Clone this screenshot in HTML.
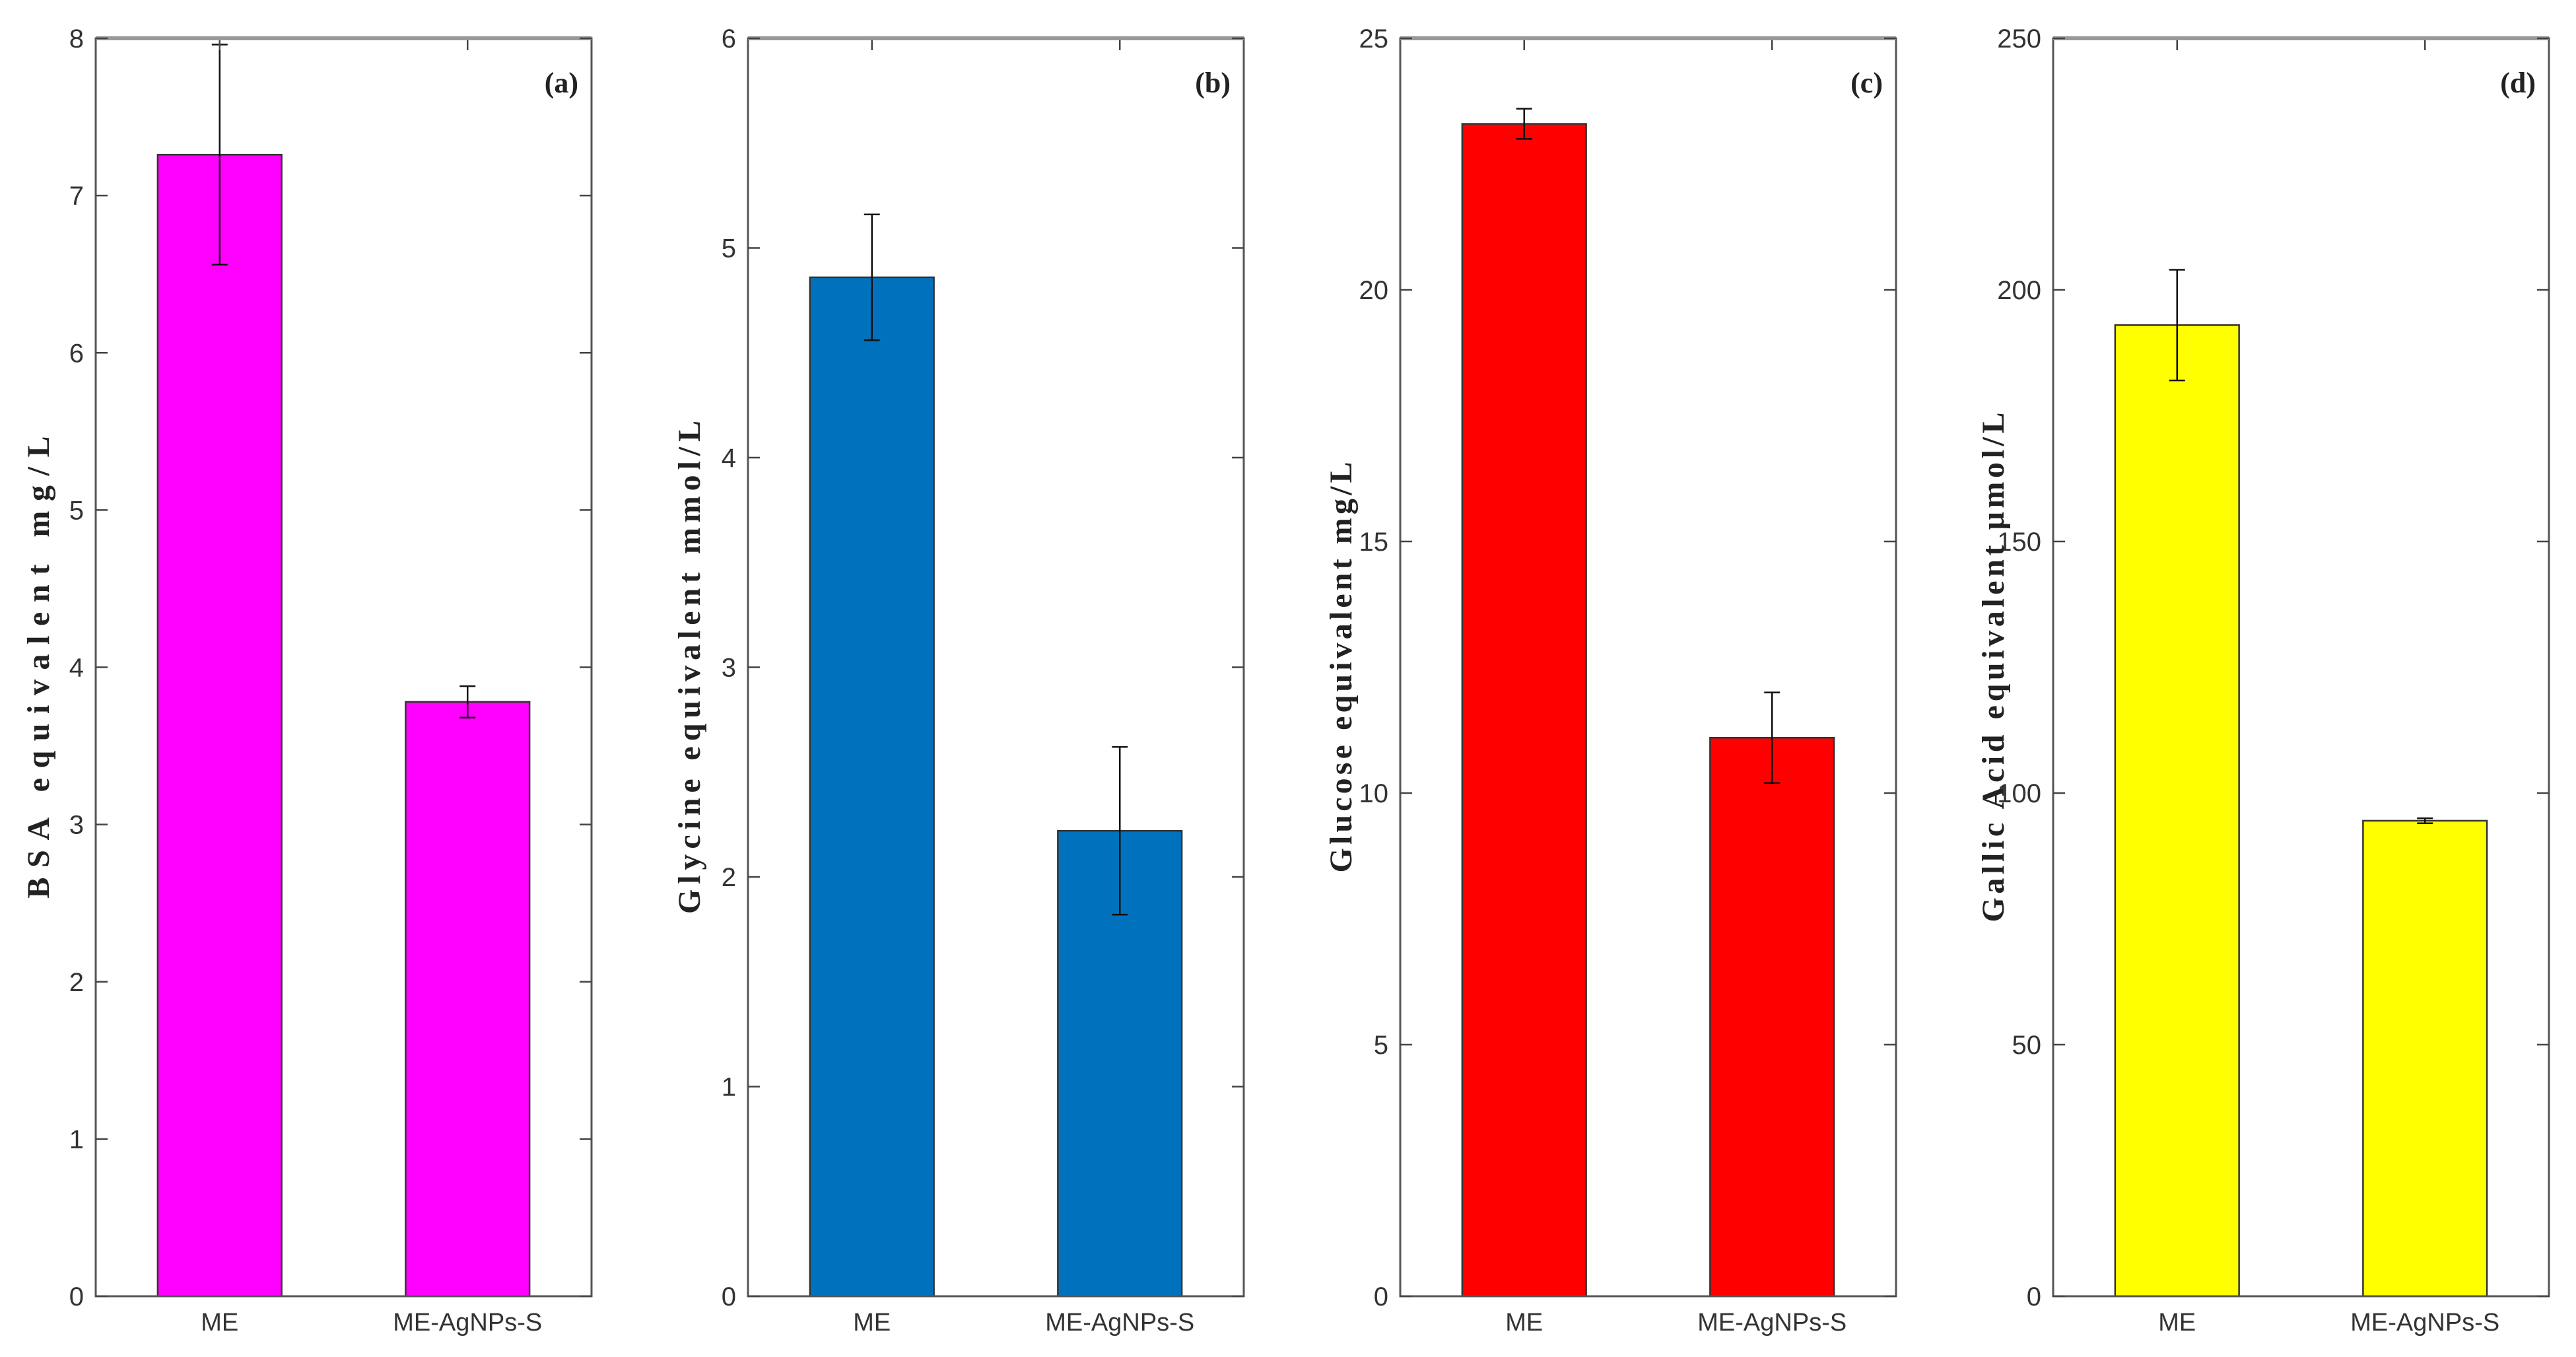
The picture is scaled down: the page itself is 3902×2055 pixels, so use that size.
<!DOCTYPE html>
<html><head><meta charset="utf-8"><style>
html,body{margin:0;padding:0;background:#fff;}
svg{display:block;}
</style></head><body>
<svg id="chart" width="3902" height="2055" xmlns="http://www.w3.org/2000/svg"></svg>
<script>
const categories = ["ME", "ME-AgNPs-S"];
const valuesA = [7.26, 3.78];
const errorsA = [0.70, 0.10];
const valuesB = [4.86, 2.22];
const errorsB = [0.30, 0.40];
const valuesC = [23.3, 11.1];
const errorsC = [0.30, 0.90];
const valuesD = [193, 94.5];
const errorsD = [11, 0.5];
const ticksA = [0,1,2,3,4,5,6,7,8];
const ticksB = [0,1,2,3,4,5,6];
const ticksC = [0,5,10,15,20,25];
const ticksD = [0,50,100,150,200,250];

const panels = [
  {id:'a', left:145, vals:valuesA, errs:errorsA, ticks:ticksA, color:'#ff00ff', title:'BSA equivalent mg/L', tx:74, tl:700},
  {id:'b', left:1133, vals:valuesB, errs:errorsB, ticks:ticksB, color:'#0072bd', title:'Glycine equivalent mmol/L', tx:1060, tl:747},
  {id:'c', left:2121, vals:valuesC, errs:errorsC, ticks:ticksC, color:'#ff0000', title:'Glucose equivalent mg/L', tx:2047, tl:622},
  {id:'d', left:3110, vals:valuesD, errs:errorsD, ticks:ticksD, color:'#ffff00', title:'Gallic Acid equivalent \u03BCmol/L', tx:3035, tl:772}
];
const W = 751, TOP = 58, BOT = 1963;
const svg = document.getElementById('chart');
const NS = 'http://www.w3.org/2000/svg';
function mk(tag, attrs, parent){
  const e = document.createElementNS(NS, tag);
  for (const k in attrs) e.setAttribute(k, attrs[k]);
  parent.appendChild(e);
  return e;
}
panels.forEach(p => {
  const g = mk('g', {}, svg);
  
  
  const ymax = p.ticks[p.ticks.length-1];
  const y = v => BOT - (v / ymax) * (BOT - TOP);
  const x = i => p.left + ((i + 1) - 0.5) / 2 * W;
  const bw = 0.5 / 2 * W;
  p.vals.forEach((v, i) => {
    const r = mk('rect', {x:x(i)-bw/2, y:y(v), width:bw, height:BOT-y(v), fill:p.color, stroke:'#333', 'stroke-width':2.5}, g);
    
    
    const e = p.errs[i];
    const eb = mk('path', {d:`M${x(i)} ${y(v+e)}V${y(v-e)}M${x(i)-12} ${y(v+e)}H${x(i)+12}M${x(i)-12} ${y(v-e)}H${x(i)+12}`, stroke:'#111', 'stroke-width':2.5, fill:'none'}, g);
    
    
    const t = mk('text', {x:x(i), y:2015, 'text-anchor':'middle', 'font-family':'Liberation Sans, sans-serif', 'font-size':38, fill:'#333'}, g);
    t.textContent = categories[i];
    
    
    mk('path', {d:`M${x(i)} ${TOP}v18`, stroke:'#444', 'stroke-width':2.5}, g);
  });
  const box = mk('rect', {x:p.left, y:TOP, width:W, height:BOT-TOP, fill:'none', stroke:'#555', 'stroke-width':3}, g);
  
  
  mk('line', {x1:p.left, x2:p.left+W, y1:TOP, y2:TOP, stroke:'#999', 'stroke-width':6}, g);
  p.ticks.forEach(tv => {
    const yy = y(tv);
    mk('path', {d:`M${p.left} ${yy}h18M${p.left+W} ${yy}h-18`, stroke:'#444', 'stroke-width':2.5}, g);
    const t = mk('text', {x:p.left-18, y:yy+14, 'text-anchor':'end', 'font-family':'Liberation Sans, sans-serif', 'font-size':40, fill:'#333'}, g);
    t.textContent = tv;
    
    
  });
  const cy = (TOP+BOT)/2;
  const yt = mk('text', {x:p.tx, y:cy, 'text-anchor':'middle', 'font-family':'Liberation Serif, serif', 'font-weight':'bold', 'font-size':48, fill:'#222', textLength:p.tl, lengthAdjust:'spacing', transform:`rotate(-90 ${p.tx} ${cy})`}, g);
  yt.textContent = p.title;
  
  
  const lb = mk('text', {x:p.left+W-20, y:140, 'text-anchor':'end', 'font-family':'Liberation Serif, serif', 'font-weight':'bold', 'font-size':44, fill:'#222'}, g);
  lb.textContent = '(' + p.id + ')';
  
  
});
</script>
</body></html>
